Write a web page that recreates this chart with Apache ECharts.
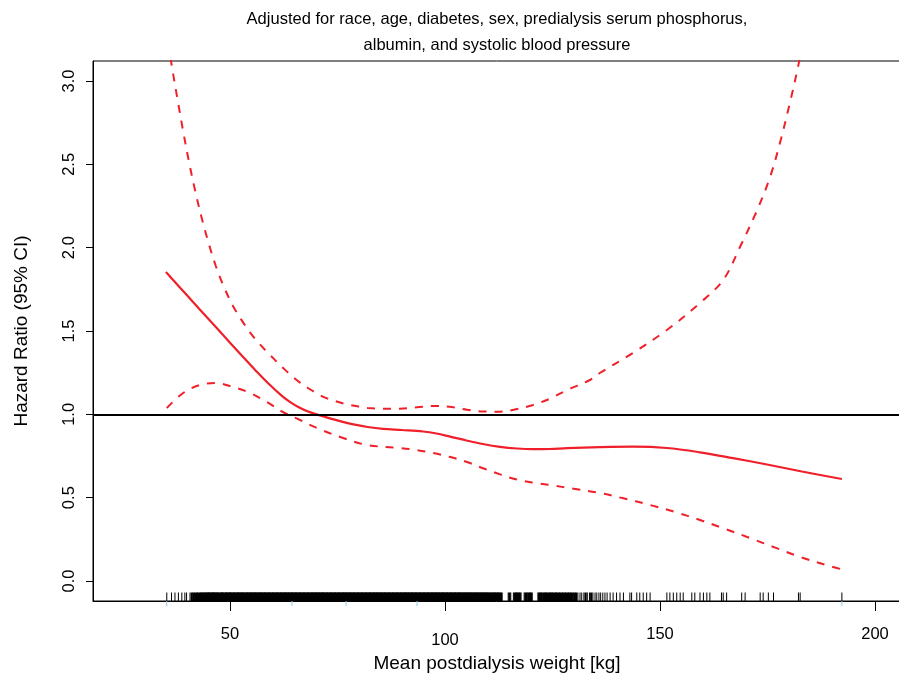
<!DOCTYPE html>
<html>
<head>
<meta charset="utf-8">
<script src="https://cdn.jsdelivr.net/npm/echarts@6/dist/echarts.min.js"></script>
<style>
  html, body { margin: 0; padding: 0; background: #fff; }
  #chart { width: 899px; height: 676px; }
</style>
</head>
<body>
<div id="chart"></div>
<script>
// Spline estimate of the hazard ratio and its 95% confidence band
const fitHR = [
  [35.1, 1.854], [40, 1.714], [45, 1.572], [50, 1.43], [53, 1.345], [56, 1.262],
  [59, 1.183], [62, 1.112], [64, 1.073], [66, 1.042], [68, 1.018], [70.5, 0.997],
  [73, 0.977], [76, 0.956], [79, 0.938], [82, 0.924], [85.6, 0.913], [90, 0.906],
  [94.9, 0.897], [98, 0.885], [101.2, 0.866], [105, 0.843], [108.8, 0.822],
  [112.8, 0.805], [116.7, 0.795], [120.5, 0.791], [124.4, 0.792], [128.4, 0.797],
  [136, 0.803], [143.7, 0.806], [151.6, 0.798], [159.3, 0.772], [167, 0.737],
  [174.9, 0.699], [183, 0.657], [192.3, 0.612]
];
const upperCI = [
  [35, 3.33], [36.5, 3.085], [38, 2.86], [39.1, 2.7], [40.5, 2.51], [42, 2.33],
  [43.5, 2.17], [45, 2.03], [46.7, 1.89], [48.5, 1.77], [50.7, 1.65], [52.7, 1.565],
  [54.7, 1.49], [56.6, 1.43], [58.6, 1.375], [60.5, 1.325], [62.3, 1.28], [64.3, 1.232],
  [66.3, 1.19], [68.3, 1.155], [70.2, 1.125], [72, 1.102], [74, 1.083], [76, 1.068],
  [77.9, 1.056], [80, 1.046], [82, 1.038], [85.5, 1.033], [89.5, 1.034], [93.5, 1.042],
  [97.2, 1.05], [101, 1.045], [105.1, 1.028], [109, 1.017], [112.8, 1.016], [116.5, 1.03],
  [120.5, 1.056], [124.5, 1.095], [128.4, 1.146], [133.7, 1.206], [136, 1.248],
  [143.7, 1.368], [151.6, 1.506], [159.3, 1.668], [164.7, 1.806], [168.6, 2.004],
  [172.6, 2.226], [175.6, 2.424], [177.9, 2.628], [180.2, 2.868], [182.3, 3.11],
  [186, 3.6], [192.3, 4.6]
];
const lowerCI = [
  [35.3, 1.038], [39.1, 1.128], [43, 1.176], [46.7, 1.188], [50.7, 1.164], [54.7, 1.128],
  [58.6, 1.074], [62.3, 1.014], [66.3, 0.966], [70.2, 0.918], [76.3, 0.858], [81.9, 0.816],
  [89.5, 0.798], [93, 0.787], [97.2, 0.768], [101, 0.745], [105.1, 0.714], [109, 0.675],
  [112.8, 0.64], [116.5, 0.61], [120.5, 0.59], [124.4, 0.576], [130, 0.553], [136, 0.528],
  [141.5, 0.496], [147.7, 0.456], [153.5, 0.414], [159.3, 0.366], [165, 0.314],
  [170.9, 0.258], [176.8, 0.2], [182.6, 0.144], [190.2, 0.084], [192.3, 0.07]
];
const referenceHR = 1.0;

// Observed mean postdialysis weights (rug)
const rugWeights = [
  35.3,36.4,37.2,38.0,38.8,39.5,39.9,40.7,41.1,41.5,41.9,42.3,42.6,
  43.0,43.3,43.6,43.8,44.1,44.4,44.6,44.9,45.1,45.3,45.6,45.9,46.0,46.2,46.5,46.7,47.0,47.2,47.5,47.8,
  48.0,48.2,48.4,48.7,49.0,49.1,49.4,49.6,49.9,50.0,50.3,50.5,50.8,51.0,51.2,51.5,51.7,51.9,52.1,52.4,
  52.6,52.8,53.0,53.3,53.5,53.8,54.0,54.2,54.5,54.7,54.9,55.1,55.4,55.6,55.8,56.0,56.3,56.5,56.7,57.0,
  57.2,57.4,57.6,57.9,58.1,58.3,58.5,58.8,59.0,59.2,59.4,59.7,59.9,60.1,60.3,60.6,60.8,61.0,61.2,61.5,
  61.7,61.9,62.1,62.4,62.6,62.8,63.0,63.3,63.5,63.7,63.9,64.2,64.4,64.6,64.8,65.1,65.3,65.5,65.7,66.0,
  66.2,66.4,66.6,66.9,67.1,67.3,67.5,67.8,68.0,68.2,68.4,68.7,68.9,69.1,69.3,69.6,69.8,70.0,70.2,70.5,
  70.7,70.9,71.1,71.4,71.6,71.8,72.0,72.3,72.5,72.7,72.9,73.2,73.4,73.6,73.8,74.1,74.3,74.5,74.7,75.0,
  75.2,75.4,75.6,75.9,76.1,76.3,76.5,76.8,77.0,77.2,77.4,77.7,77.9,78.1,78.3,78.6,78.8,79.0,79.2,79.5,
  79.7,79.9,80.1,80.4,80.6,80.8,81.0,81.3,81.5,81.7,81.9,82.2,82.4,82.6,82.8,83.1,83.3,83.5,83.7,84.0,
  84.2,84.4,84.6,84.9,85.1,85.3,85.5,85.8,86.0,86.2,86.4,86.7,86.9,87.1,87.3,87.6,87.8,88.0,88.2,88.5,
  88.7,88.9,89.1,89.4,89.6,89.8,90.0,90.3,90.5,90.7,90.9,91.2,91.4,91.6,91.8,92.1,92.3,92.5,92.7,93.0,
  93.2,93.4,93.6,93.9,94.1,94.3,94.5,94.8,95.0,95.2,95.4,95.7,95.9,96.1,96.3,96.6,96.8,97.0,97.2,97.5,
  97.7,97.9,98.1,98.4,98.6,98.8,99.0,99.3,99.5,99.7,99.9,100.2,100.4,100.6,100.8,101.1,101.3,101.5,
  101.7,102.0,102.2,102.4,102.6,102.9,103.1,103.3,103.5,103.8,104.0,104.2,104.5,104.7,104.9,105.2,
  105.4,105.6,105.9,106.1,106.3,106.6,106.8,107.1,107.3,107.5,107.8,108.0,108.3,108.5,108.8,109.0,
  109.3,109.5,109.8,110.0,110.3,110.6,110.8,111.1,111.4,111.6,111.9,112.2,112.4,112.7,113.0,113.3,
  114.7,115.0,115.3,115.9,116.2,116.5,116.8,117.1,117.4,117.7,118.4,118.7,119.0,119.4,119.7,120.0,
  120.3,121.6,121.9,122.2,122.5,122.9,123.2,123.5,123.8,124.2,124.5,124.8,125.1,125.5,125.8,126.1,
  126.5,126.8,127.2,127.5,127.9,128.2,128.6,128.9,129.3,129.7,130.1,130.5,130.9,131.4,131.8,132.3,
  132.7,133.1,133.6,134.0,134.4,134.9,135.3,135.8,136.2,136.7,137.2,137.7,138.4,139.1,139.9,140.7,
  141.5,143.0,143.4,144.6,145.3,146.1,146.9,147.7,151.6,152.3,153.1,153.9,154.7,155.4,157.4,158.1,
  159.3,160.1,160.9,161.6,164.3,164.7,165.5,169.0,169.8,173.3,174.0,175.2,176.4,182.2,182.6,192.3
];
// Secondary rug marks below the axis
const rugMarks = [35.3, 64.4, 77.0, 93.5, 192.3];

const xTicks = [50, 100, 150, 200];
const yTicks = [0, 0.5, 1, 1.5, 2, 2.5, 3];
const titleLines = [
  'Adjusted for race, age, diabetes, sex, predialysis serum phosphorus,',
  'albumin, and systolic blood pressure'
];
const xTitle = 'Mean postdialysis weight [kg]';
const yTitle = 'Hazard Ratio (95% CI)';

const X_MIN = 18.14, X_MAX = 206.05, Y_MIN = -0.12, Y_MAX = 3.12;
const FONT = '"Liberation Sans", Arial, Helvetica, sans-serif';
const RED = '#f0202a';

// Short vertical strokes sitting on the bottom edge of the plot;
// strokes packed closely on both sides are widened so dense stretches read as a solid band
function rugRenderer(values, len, color, down) {
  return function (params, api) {
    const v = api.value(0);
    const p = api.coord([v, Y_MIN]);
    const i = params.dataIndex;
    const prev = i > 0 ? api.coord([values[i - 1], Y_MIN])[0] : -1e9;
    const next = i < values.length - 1 ? api.coord([values[i + 1], Y_MIN])[0] : 1e9;
    const gap = Math.max(p[0] - prev, next - p[0]);
    const width = gap < 2.0 ? 2.2 : 1;
    return {
      type: 'line',
      shape: { x1: p[0], y1: p[1], x2: p[0], y2: down ? p[1] + len : p[1] - len },
      style: { stroke: color, lineWidth: width }
    };
  };
}

const chart = echarts.init(document.getElementById('chart'), null, { renderer: 'canvas' });
chart.setOption({
  animation: false,
  backgroundColor: '#fff',
  graphic: [{
    type: 'text', x: 497, y: 6,
    style: {
      text: titleLines.join('\n'),
      textAlign: 'center', font: '16.5px ' + FONT, lineHeight: 26, fill: '#000'
    }
  }],
  grid: {
    left: 93, top: 61, right: -2, bottom: 75, outerBoundsMode: 'none', containLabel: false,
    show: true, borderColor: '#000', borderWidth: 1, backgroundColor: 'transparent'
  },
  xAxis: {
    type: 'value', min: X_MIN, max: X_MAX,
    name: xTitle, nameLocation: 'middle', nameGap: 53,
    nameTextStyle: { fontFamily: FONT, fontSize: 19, color: '#000' },
    axisLine: { show: true, onZero: false, lineStyle: { color: '#000', width: 1 } },
    axisTick: { show: true, customValues: xTicks, length: 10, lineStyle: { color: '#000' } },
    axisLabel: {
      customValues: xTicks, margin: 25, color: '#000', fontFamily: FONT, fontSize: 16.5,
      formatter: v => (v === 100 ? '{low|' + v + '}' : String(v)),
      rich: { low: { fontFamily: FONT, fontSize: 16.5, color: '#000', padding: [6, 0, 0, 0] } }
    },
    splitLine: { show: false }
  },
  yAxis: {
    type: 'value', min: Y_MIN, max: Y_MAX,
    name: yTitle, nameLocation: 'middle', nameGap: 62, nameRotate: 90,
    nameTextStyle: { fontFamily: FONT, fontSize: 19, color: '#000' },
    axisLine: { show: true, onZero: false, lineStyle: { color: '#000', width: 1 } },
    axisTick: { show: true, customValues: yTicks, length: 7, lineStyle: { color: '#000' } },
    axisLabel: {
      customValues: yTicks, rotate: 90, margin: 15, color: '#000', fontFamily: FONT, fontSize: 16.5,
      formatter: v => v.toFixed(1)
    },
    splitLine: { show: false }
  },
  series: [
    {
      type: 'custom', name: 'rug', data: rugWeights.map(v => [v]),
      renderItem: rugRenderer(rugWeights, 8.5, '#000', false), silent: true, z: 1
    },
    {
      type: 'custom', name: 'rug2', data: rugMarks.map(v => [v]),
      renderItem: rugRenderer(rugMarks, 5, '#8ec8e8', true), silent: true, z: 1
    },
    {
      type: 'line', name: 'upper', data: upperCI, smooth: 0.35, showSymbol: false,
      lineStyle: { color: RED, width: 2, type: [8, 8] }, clip: true, z: 3
    },
    {
      type: 'line', name: 'lower', data: lowerCI, smooth: 0.35, showSymbol: false,
      lineStyle: { color: RED, width: 2, type: [8, 8] }, clip: true, z: 3
    },
    {
      type: 'line', name: 'HR', data: fitHR, smooth: 0.35, showSymbol: false,
      lineStyle: { color: RED, width: 2.2 }, clip: true, z: 4,
      markLine: {
        silent: true, symbol: ['none', 'none'], label: { show: false },
        lineStyle: { color: '#000', width: 2.2, type: 'solid' },
        data: [{ yAxis: referenceHR }]
      }
    }
  ]
});
</script>
</body>
</html>
